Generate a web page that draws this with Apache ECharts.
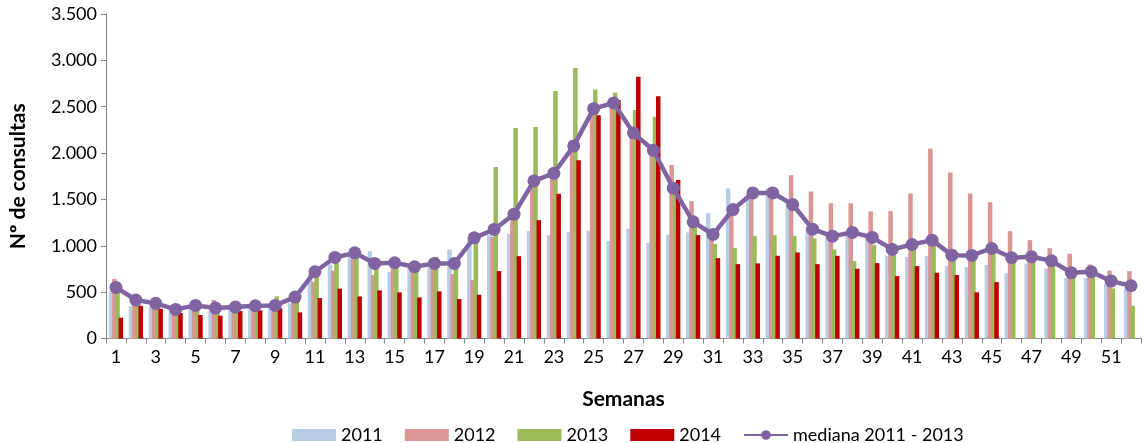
<!DOCTYPE html>
<html>
<head>
<meta charset="utf-8">
<script src="https://cdn.jsdelivr.net/npm/echarts@6/dist/echarts.min.js"></script>
<style>
html,body{margin:0;padding:0;background:#fff;}
#c{width:1144px;height:443px;}
</style>
</head>
<body>
<div id="c"></div>
<script>
const weeks = Array.from({length: 52}, (_, i) => String(i + 1));
const y2011 = [510,350,340,300,340,300,330,360,340,385,
  700,800,900,942,720,780,780,960,1086,1115,
  1125,1158,1115,1150,1165,1050,1183,1032,1118,1144,
  1352,1617,1545,1617,1445,1179,1104,1144,1090,892,
  881,888,781,770,792,702,810,756,652,652,594,540];
const y2012 = [641,420,380,330,357,415,339,340,357,447,
  612,730,864,684,817,750,810,695,630,1096,
  1330,1700,1782,2077,2479,2540,2217,2030,1872,1481,
  1122,1391,1570,1570,1760,1585,1459,1459,1370,1376,
  1564,2048,1790,1564,1470,1158,1061,975,914,799,734,727];
const y2013 = [540,410,370,314,370,328,350,353,455,470,
  740,890,920,810,830,774,881,810,1040,1850,
  2270,2280,2669,2917,2687,2652,2464,2393,1621,1258,
  1021,975,1104,1115,1107,1079,961,835,1007,961,
  1014,1040,899,896,971,871,881,838,709,720,540,353];
const y2014 = [224,353,321,275,253,246,296,303,325,282,
  436,537,454,519,497,443,508,425,472,727,
  888,1276,1560,1922,2407,2572,2824,2612,1710,1115,
  867,802,810,892,928,802,892,752,813,673,
  781,709,684,498,608,null,null,null,null,null,null,null];
const mediana = [551,415,379,314,357,328,339,353,357,447,
  720,874,924,810,817,774,810,810,1086,1176,
  1341,1700,1782,2077,2479,2540,2217,2030,1621,1258,
  1122,1391,1570,1570,1445,1179,1104,1144,1090,961,
  1014,1061,899,896,971,871,881,838,709,720,619,569];
const seriesNames = ['2011','2012','2013','2014','mediana 2011 - 2013'];

const FONT = 'Lato, "Open Sans", sans-serif';
const chart = echarts.init(document.getElementById('c'), null, {renderer: 'canvas'});
const barBase = {type: 'bar', barWidth: 4.5, barGap: '-28%', barCategoryGap: '20%'};
chart.setOption({
  animation: false,
  textStyle: {fontFamily: FONT},
  grid: {left: 105, right: 3, top: 14, bottom: 104.5, containLabel: false},
  legend: {
    top: 421, left: 287,
    itemWidth: 44, itemHeight: 12, itemGap: 22,
    textStyle: {fontFamily: FONT, fontSize: 18, color: '#000'},
    data: seriesNames.map(n => n === 'mediana 2011 - 2013' ? {name: n} : {name: n, icon: 'rect'})
  },
  xAxis: {
    type: 'category', data: weeks,
    name: 'Semanas', nameLocation: 'middle', nameGap: 50,
    nameTextStyle: {fontFamily: FONT, fontSize: 21, fontWeight: 'bold', color: '#000'},
    axisLine: {lineStyle: {color: '#868686', width: 1}},
    axisTick: {show: true, interval: 0, length: 5, lineStyle: {color: '#868686'}},
    axisLabel: {interval: 1, fontFamily: FONT, fontSize: 18, color: '#000', margin: 10},
    splitLine: {show: false}
  },
  yAxis: {
    type: 'value', min: 0, max: 3500, interval: 500,
    name: 'Nº de consultas', nameLocation: 'middle', nameGap: 77,
    nameTextStyle: {fontFamily: FONT, fontSize: 21, fontWeight: 'bold', color: '#000'},
    axisLine: {show: true, lineStyle: {color: '#868686', width: 1}},
    axisTick: {show: true, length: 5, lineStyle: {color: '#868686'}},
    axisLabel: {fontFamily: FONT, fontSize: 18, color: '#000', margin: 9,
      formatter: v => String(v).replace(/\B(?=(\d{3})+(?!\d))/g, '.')},
    splitLine: {show: false}
  },
  series: [
    Object.assign({}, barBase, {name: '2011', data: y2011, itemStyle: {color: '#B9CDE5'}}),
    Object.assign({}, barBase, {name: '2012', data: y2012, itemStyle: {color: '#DA9694'}}),
    Object.assign({}, barBase, {name: '2013', data: y2013, itemStyle: {color: '#9BBB59'}}),
    Object.assign({}, barBase, {name: '2014', data: y2014, itemStyle: {color: '#C00000'}}),
    {name: 'mediana 2011 - 2013', type: 'line', data: mediana,
     symbol: 'circle', symbolSize: 13, lineStyle: {color: '#8064A2', width: 4.5},
     itemStyle: {color: '#8064A2'}, z: 5}
  ]
});
</script>
</body>
</html>
